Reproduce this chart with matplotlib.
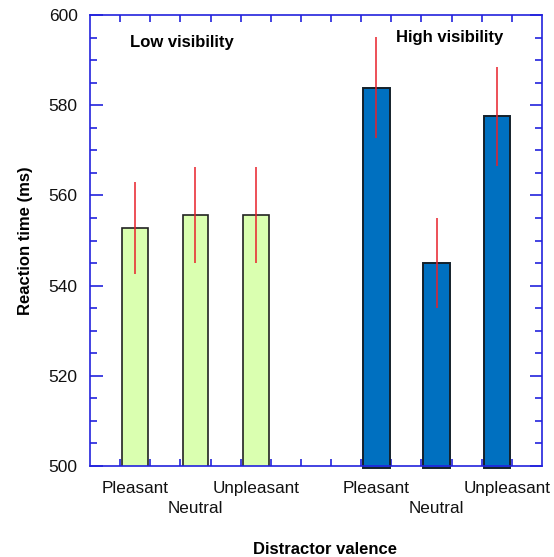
import matplotlib
matplotlib.use("Agg")
import matplotlib.pyplot as plt
from matplotlib.ticker import MultipleLocator

plt.rcParams['font.family'] = ['Liberation Sans', 'DejaVu Sans']

# === data ===
categories = ["Pleasant", "Neutral", "Unpleasant"]
low_rt = [552.8, 555.7, 555.7]
low_err = [10.2, 10.7, 10.6]
high_rt = [583.9, 545.0, 577.5]
high_err = [11.2, 9.9, 11.0]

low_x = [1.5, 3.5, 5.5]
high_x = [9.5, 11.5, 13.5]

fig = plt.figure(figsize=(5.54, 5.57), dpi=100)
ax = fig.add_axes([90 / 554, 1 - 466 / 557, 452 / 554, 451 / 557])

# bars
ax.bar(low_x, low_rt, width=0.85, bottom=0, color="#DAFFB0",
       edgecolor="#222222", linewidth=1.2, zorder=2)
ax.bar(high_x, [v - 499.6 for v in high_rt], width=0.88, bottom=499.6,
       color="#0070C0", edgecolor="#14202a", linewidth=1.4, zorder=2,
       clip_on=False)

# error bars (red lines, no caps)
ax.errorbar(low_x, low_rt, yerr=low_err, fmt="none", ecolor="#e8202a",
            elinewidth=1.1, capsize=0, zorder=3)
ax.errorbar(high_x, high_rt, yerr=high_err, fmt="none", ecolor="#e8202a",
            elinewidth=1.1, capsize=0, zorder=3)

ax.set_xlim(0, 15)
ax.set_ylim(500, 600)

# axis styling
for sp in ax.spines.values():
    sp.set_color("#2222dd")
    sp.set_linewidth(1.2)
    sp.set_zorder(4)

ax.yaxis.set_major_locator(MultipleLocator(20))
ax.yaxis.set_minor_locator(MultipleLocator(5))
ax.set_xticks(range(1, 15))
ax.tick_params(axis="both", which="both", direction="in", colors="#2222dd",
               top=True, right=True, width=1.2, labelcolor="#111111")
ax.tick_params(axis="y", which="major", length=9, labelsize=12.5, pad=9)
ax.tick_params(axis="y", which="minor", length=5)
ax.tick_params(axis="y", labelright=False)
ax.tick_params(axis="x", which="major", length=5, labelbottom=False)

# category labels (staggered)
trans = ax.get_xaxis_transform()
label_shift = [0, 0, 0, 0, 0, 0.35]
for j, xs in enumerate((low_x, high_x)):
    for i, (x, name) in enumerate(zip(xs, categories)):
        y = -0.049 if i != 1 else -0.095
        ax.text(x + label_shift[j * 3 + i], y, name, transform=trans,
                ha="center", va="center", fontsize=12.3, color="#111111")

ax.text(3.05, 0.938, "Low visibility", transform=trans, ha="center",
        va="center", fontsize=12, fontweight="bold")
ax.text(11.95, 0.951, "High visibility", transform=trans, ha="center",
        va="center", fontsize=12, fontweight="bold")

ax.set_ylabel("Reaction time (ms)", fontsize=12, fontweight="bold")
ax.yaxis.set_label_coords(-0.125, 0.5)
ax.set_xlabel("Distractor valence", fontsize=12, fontweight="bold")
ax.xaxis.set_label_coords(0.52, -0.168)

fig.savefig("out.png", dpi=100)
